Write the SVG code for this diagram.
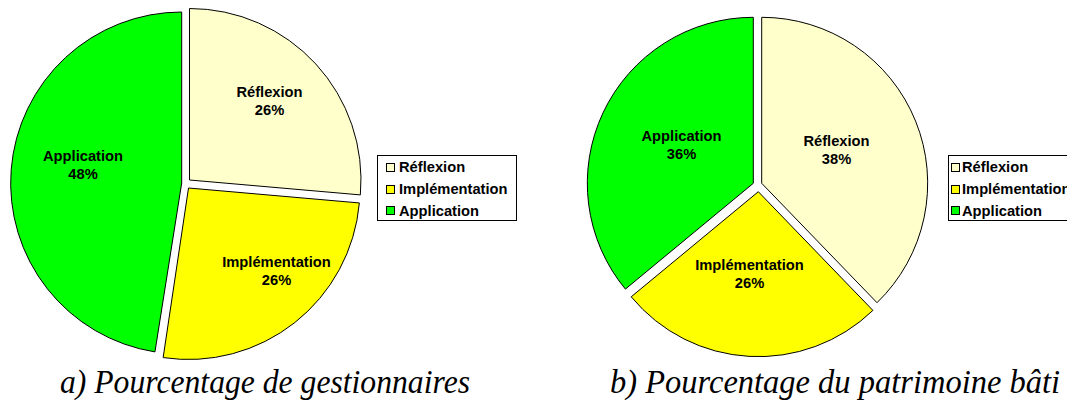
<svg xmlns="http://www.w3.org/2000/svg" width="1067" height="403" viewBox="0 0 1067 403">
<style>
.sl{stroke:#000;stroke-width:1;stroke-linejoin:round}
.r{fill:#FFFFCC}.i{fill:#FFFF00}.a{fill:#00FF00}
.lb{font-weight:bold;font-size:14.7px;fill:#000;text-anchor:middle}
.lg{font-weight:bold;font-size:14.7px;fill:#000}
.box{fill:#fff;stroke:#000;stroke-width:1}
.sq{stroke:#000;stroke-width:1}
.cap{font-style:italic;font-size:33px;fill:#000}
</style>
<rect width="1067" height="403" fill="#fff"/>
<g font-family="Liberation Sans, Arimo, Arial, sans-serif">
<g id="pieA">
  <g id="pieA-reflexion">
    <path class="sl r" d="M189.5,180 L189.5,8.5 A171.5,171.5 0 0 1 360.35,194.9 Z"/>
    <text class="lb" x="269.5" y="96.5">Réflexion</text>
    <text class="lb" x="269.5" y="114.5">26%</text>
  </g>
  <g id="pieA-implementation">
    <path class="sl i" d="M188.5,188 L359.35,202.95 A171.5,171.5 0 0 1 163.15,357.6 Z"/>
    <text class="lb" x="276.5" y="266.5">Implémentation</text>
    <text class="lb" x="276.5" y="284.5">26%</text>
  </g>
  <g id="pieA-application">
    <path class="sl a" d="M181.7,183 L154.95,351.9 A171,171 0 0 1 181.7,12 Z"/>
    <text class="lb" x="83" y="161">Application</text>
    <text class="lb" x="83" y="179">48%</text>
  </g>
</g>
<g id="legendA">
  <rect class="box" x="377.5" y="155.5" width="139" height="65"/>
  <rect class="sq r" x="386.5" y="163.5" width="8" height="8"/>
  <rect class="sq i" x="386.5" y="185.5" width="8" height="8"/>
  <rect class="sq a" x="386.5" y="206.5" width="8" height="8"/>
  <text class="lg" x="399" y="172">Réflexion</text>
  <text class="lg" x="399" y="194">Implémentation</text>
  <text class="lg" x="399" y="215.5">Application</text>
</g>
<g id="pieB">
  <g id="pieB-reflexion">
    <path class="sl r" d="M761.7,183.3 L761.7,17.3 A166,166 0 0 1 877,302.7 Z"/>
    <text class="lb" x="836.5" y="145.5">Réflexion</text>
    <text class="lb" x="836.5" y="163.5">38%</text>
  </g>
  <g id="pieB-implementation">
    <path class="sl i" d="M758.3,191.7 L872.9,310.4 A165,165 0 0 1 631.2,296.8 Z"/>
    <text class="lb" x="749.5" y="270">Implémentation</text>
    <text class="lb" x="749.5" y="288">26%</text>
  </g>
  <g id="pieB-application">
    <path class="sl a" d="M753.3,183.3 L625.4,289.1 A166,166 0 0 1 753.3,17.3 Z"/>
    <text class="lb" x="681.5" y="141">Application</text>
    <text class="lb" x="681.5" y="159">36%</text>
  </g>
</g>
<g id="legendB">
  <rect class="box" x="948.5" y="155.5" width="130" height="65"/>
  <rect class="sq r" x="951.5" y="163.5" width="8" height="8"/>
  <rect class="sq i" x="951.5" y="185.5" width="8" height="8"/>
  <rect class="sq a" x="951.5" y="206.5" width="8" height="8"/>
  <text class="lg" x="962" y="172">Réflexion</text>
  <text class="lg" x="962" y="194">Implémentation</text>
  <text class="lg" x="962" y="215.5">Application</text>
</g>
</g>
<g id="captions" font-family="Liberation Serif, Tinos, Times New Roman, serif">
  <text class="cap" x="60" y="393" textLength="410" lengthAdjust="spacingAndGlyphs">a) Pourcentage de gestionnaires</text>
  <text class="cap" x="610" y="393" textLength="450" lengthAdjust="spacingAndGlyphs">b) Pourcentage du patrimoine bâti</text>
</g>
</svg>
